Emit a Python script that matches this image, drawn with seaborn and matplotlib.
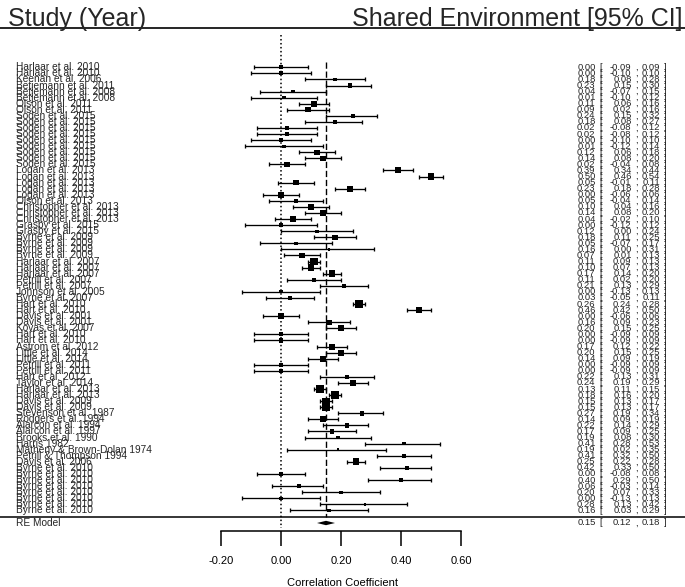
import numpy as np
import pandas as pd
import matplotlib
matplotlib.use("Agg")
import matplotlib.pyplot as plt
import seaborn as sns

# Study labels, top to bottom
studies = (["Harlaar et al. 2010"] * 2 + ["Keenan et al. 2006", "Betjemann et al. 2011"]
           + ["Betjemann et al. 2008"] * 2 + ["Olson et al. 2011"] * 2
           + ["Soden et al. 2015"] * 9 + ["Logan et al. 2013"] * 5 + ["Olson et al. 2013"]
           + ["Christopher et al. 2013"] * 3 + ["Grasby et al. 2015"] * 2
           + ["Byrne et al. 2009"] * 4 + ["Harlaar et al. 2007"] * 3 + ["Petrill et al. 2007"] * 2
           + ["Johnson et al. 2005", "Byrne et al. 2007"] + ["Hart et al. 2010"] * 2
           + ["Davis et al. 2001"] * 2 + ["Kovas et al. 2007"] + ["Hart et al. 2010"] * 2
           + ["Astrom et al. 2012"] + ["Little et al. 2014"] * 2 + ["Petrill et al. 2011"] * 2
           + ["Hart et al. 2012", "Taylor et al. 2014"] + ["Harlaar et al. 2013"] * 2
           + ["Davis et al. 2009"] * 2
           + ["Stevenson et al. 1987", "Rodgers et al. 1994", "Alarcon et al. 1994",
              "Alarcon et al. 1997", "Brooks et al. 1990", "Harris 1982",
              "Matheny & Brown-Dolan 1974", "Petrill & Thompson 1994", "Davis et al. 2006"]
           + ["Byrne et al. 2010"] * 8)

est = [0.00, 0.00, 0.18, 0.23, 0.04, 0.01, 0.11, 0.09,
       0.24, 0.18, 0.02, 0.02, 0.00, 0.01, 0.12, 0.14, 0.02,
       0.39, 0.50, 0.05, 0.23, 0.00, 0.05,
       0.10, 0.14, 0.04, 0.00, 0.12,
       0.18, 0.05, 0.16, 0.07, 0.11, 0.10, 0.17, 0.11, 0.21,
       0.00, 0.03, 0.26, 0.46, 0.00, 0.16, 0.20, 0.00, 0.00,
       0.17, 0.20, 0.14, 0.00, 0.00, 0.22, 0.24, 0.13, 0.18,
       0.15, 0.15, 0.27, 0.14, 0.22, 0.17, 0.19, 0.41, 0.19, 0.41, 0.25,
       0.42, 0.00, 0.40, 0.06, 0.20, 0.00, 0.28, 0.16]
ci_lb = [-0.09, -0.10, 0.08, 0.15, -0.07, -0.10, 0.06, 0.02,
         0.15, 0.08, -0.08, -0.08, -0.10, -0.12, 0.06, 0.08, -0.04,
         0.34, 0.46, -0.01, 0.18, -0.06, -0.04,
         0.04, 0.08, -0.02, -0.12, 0.00,
         0.11, -0.07, 0.00, 0.01, 0.09, 0.07, 0.14, 0.02, 0.13,
         -0.13, -0.05, 0.24, 0.42, -0.06, 0.09, 0.15, -0.09, -0.09,
         0.12, 0.15, 0.09, -0.09, -0.09, 0.13, 0.19, 0.11, 0.16,
         0.13, 0.13, 0.19, 0.09, 0.14, 0.09, 0.08, 0.28, 0.02, 0.32, 0.22,
         0.33, -0.08, 0.29, -0.03, 0.07, -0.13, 0.13, 0.03]
ci_ub = [0.09, 0.10, 0.28, 0.30, 0.15, 0.12, 0.16, 0.16,
         0.32, 0.27, 0.12, 0.12, 0.10, 0.14, 0.18, 0.20, 0.08,
         0.44, 0.54, 0.11, 0.28, 0.06, 0.14,
         0.16, 0.20, 0.10, 0.12, 0.24,
         0.25, 0.17, 0.31, 0.13, 0.13, 0.13, 0.20, 0.20, 0.29,
         0.13, 0.11, 0.28, 0.50, 0.06, 0.23, 0.25, 0.09, 0.09,
         0.22, 0.25, 0.19, 0.09, 0.09, 0.31, 0.29, 0.15, 0.20,
         0.17, 0.17, 0.34, 0.19, 0.29, 0.25, 0.30, 0.53, 0.35, 0.50, 0.28,
         0.50, 0.08, 0.50, 0.14, 0.33, 0.13, 0.42, 0.29]

re_est, re_lb, re_ub = 0.15, 0.12, 0.18
ticks = [-0.20, 0.00, 0.20, 0.40, 0.60]

sns.set_theme(style="white")
plt.rcParams['font.family'] = ['Liberation Sans', 'DejaVu Sans']

W, H = 685, 587
fig = plt.figure(figsize=(W / 100, H / 100), dpi=100)
ax = fig.add_axes([0, 0, 1, 1])

# pixel -> data helpers (0.00 at x=281 px, 300 px per unit; rows 6.07 px apart)
x0, ppu = 281, 300
y0, step = 67.3, 6.07
def xd(px): return (px - x0) / ppu
def yd(px): return (px - y0) / step

df = pd.DataFrame({'study': studies, 'est': est, 'lb': ci_lb, 'ub': ci_ub})
df['row'] = np.arange(len(df))
se = (df.ub - df.lb) / 3.92
w = 1 / (se ** 2 + 0.002)
df['psize'] = ((w - w.min()) / (w.max() - w.min()) + 0.5) ** 2

ax.errorbar(df.est, df.row, xerr=[df.est - df.lb, df.ub - df.est], fmt='none',
            ecolor='black', elinewidth=0.95, capsize=1.2, capthick=0.95)
k = 12.25
sns.scatterplot(data=df, x='est', y='row', size='psize', sizes=(k * 0.25, k * 2.25),
                marker='s', color='black', edgecolor='none', legend=False, ax=ax, zorder=3)

# summary diamond
yre = yd(523)
h = 2.2 / step
ax.fill([re_lb, re_est, re_ub, re_est], [yre, yre - h, yre, yre + h], color='black', lw=0)

# reference lines
ax.plot([xd(0), xd(W)], [yd(28)] * 2, color='black', lw=1.2)
ax.plot([xd(0), xd(W)], [yd(517)] * 2, color='black', lw=1.1)
ax.vlines(0, yd(35), yd(528), colors='black', linestyles=(0, (1, 1.6)), lw=1.1)
ax.vlines(re_est, yd(62), yd(517), colors='black', linestyles=(0, (4.5, 2)), lw=1.0)

# headers
ax.text(xd(8), yd(26), "Study (Year)", fontsize=18, va='baseline', ha='left')
ax.text(xd(683), yd(26), "Shared Environment [95% CI]", fontsize=18, va='baseline', ha='right')

# row text
fs_lab = 7.3
fs_val = 6.8
def value_cols(y, e, lb, ub):
    kw = dict(fontsize=fs_val, va='center')
    ax.text(xd(595.5), y, f"{e:.2f}", ha='right', **kw)
    ax.text(xd(599), y, "[", ha='left', **kw)
    ax.text(xd(631.5), y, f"{lb:.2f}", ha='right', **kw)
    ax.text(xd(635.5), y, ",", ha='left', **kw)
    ax.text(xd(660), y, f"{ub:.2f}", ha='right', **kw)
    ax.text(xd(664), y, "]", ha='left', **kw)

for r in df.itertuples():
    ax.text(xd(16), r.row, r.study, fontsize=fs_lab, va='center', ha='left')
    value_cols(r.row, r.est, r.lb, r.ub)

ax.text(xd(16), yre, "RE Model", fontsize=fs_lab, va='center', ha='left')
value_cols(yre, re_est, re_lb, re_ub)

ax.set_xlim(xd(0), xd(W))
ax.set_ylim(yd(H), yd(0))
ax.axis('off')

# x axis
ax_x = fig.add_axes([0, 1 - 531 / H, 1, 0.02])
ax_x.patch.set_alpha(0)
ax_x.set_xlim(xd(0), xd(W))
for s in ['top', 'left', 'right']:
    ax_x.spines[s].set_visible(False)
ax_x.spines['bottom'].set_bounds(ticks[0], ticks[-1])
ax_x.spines['bottom'].set_color('black')
ax_x.spines['bottom'].set_linewidth(1.1)
ax_x.set_yticks([])
ax_x.set_xticks(ticks, labels=[f"{t:.2f}" for t in ticks])
ax_x.tick_params(axis='x', direction='out', length=10.8, width=1.1, color='black',
                 pad=7.5, labelsize=8, labelcolor='black', bottom=True)
ax_x.set_xlabel("Correlation Coefficient", fontsize=8, labelpad=8, color='black')

fig.savefig("out.png", dpi=100)
